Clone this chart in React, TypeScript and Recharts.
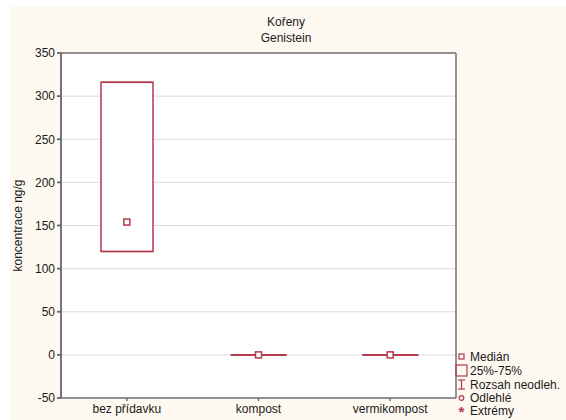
import React from "react";
import {
  ComposedChart,
  Bar,
  Scatter,
  XAxis,
  YAxis,
  CartesianGrid,
} from "recharts";

const categories = ["bez přídavku", "kompost", "vermikompost"];
const medians = [154, 0, 0];
const q1 = [120, 0, 0];
const q3 = [316, 0, 0];
const nonOutlierMin = [120, 0, 0];
const nonOutlierMax = [316, 0, 0];
const yTicks = [-50, 0, 50, 100, 150, 200, 250, 300, 350];

const RED = "#b23a48";
const FONT = "'Liberation Sans', Arial, sans-serif";

const data = categories.map((name, i) => ({
  name,
  median: medians[i],
  box: [q1[i], q3[i]],
  range: [nonOutlierMin[i], nonOutlierMax[i]],
}));

const BoxShape = (props: any) => {
  const { x, y, width, height } = props;
  if (!height || Math.abs(height) < 1) {
    return <line x1={x} x2={x + width} y1={y} y2={y} stroke={RED} strokeWidth={1.5} />;
  }
  return (
    <rect x={x} y={y} width={width} height={height} fill="#fff" stroke={RED} strokeWidth={1.5} />
  );
};

// whisker drawn first, the box (white fill) hides the part inside it
const WhiskerShape = (props: any) => {
  const { x, y, width, height } = props;
  const cx = x + width / 2;
  const flat = !height || Math.abs(height) < 1;
  const cap = flat ? width / 2 + 2 : width / 2;
  return (
    <g stroke={RED} strokeWidth={1.5}>
      <line x1={cx} x2={cx} y1={y} y2={y + height} />
      <line x1={cx - cap} x2={cx + cap} y1={y} y2={y} />
      <line x1={cx - cap} x2={cx + cap} y1={y + height} y2={y + height} />
    </g>
  );
};

const MedianShape = (props: any) => {
  const { cx, cy } = props;
  return <rect x={cx - 3} y={cy - 3} width={6} height={6} fill="#fff" stroke={RED} strokeWidth={1.5} />;
};

const LegendBox = () => (
  <svg
    width={110}
    height={72}
    style={{ position: "absolute", left: 455, top: 349, fontFamily: FONT }}
  >
    <g fontSize={12} fill="#1a1a1a">
      <rect x={4} y={5} width={5} height={5} fill="none" stroke={RED} strokeWidth={1.2} />
      <text x={15} y={12}>Medián</text>
      <rect x={1} y={16} width={11} height={11} fill="none" stroke={RED} strokeWidth={1.2} />
      <text x={15} y={26}>25%-75%</text>
      <g stroke={RED} strokeWidth={1.2}>
        <line x1={3} x2={10} y1={31} y2={31} />
        <line x1={6.5} x2={6.5} y1={31} y2={40} />
        <line x1={3} x2={10} y1={40} y2={40} />
      </g>
      <text x={15} y={40}>Rozsah neodleh.</text>
      <circle cx={6.5} cy={49} r={2.3} fill="none" stroke={RED} strokeWidth={1.2} />
      <text x={15} y={53}>Odlehlé</text>
      <text x={6.5} y={68} textAnchor="middle" fill={RED} fontSize={15} fontWeight="bold">*</text>
      <text x={15} y={66}>Extrémy</text>
    </g>
  </svg>
);

export default function App() {
  return (
    <div
      style={{
        position: "absolute",
        left: 0,
        top: 0,
        width: 566,
        height: 420,
        background: "#fff",
        fontFamily: FONT,
      }}
    >
      <div
        style={{
          position: "absolute",
          left: 10,
          top: 6,
          width: 556,
          height: 414,
          background: "#fdf9f1",
        }}
      />
      <div
        style={{
          position: "absolute",
          left: 0,
          width: 572,
          top: 14,
          textAlign: "center",
          fontSize: 12,
          lineHeight: "16px",
          color: "#1a1a1a",
        }}
      >
        <div>Kořeny</div>
        <div>Genistein</div>
      </div>
      <div style={{ position: "absolute", left: 0, top: 0 }}>
        <ComposedChart
          width={566}
          height={420}
          data={data}
          margin={{ top: 49, right: 106, bottom: 0, left: 0 }}
          barSize={52}
          barGap={-52}
        >
          <CartesianGrid vertical={false} stroke="#dcdcdc" fill="#fff" />
          <XAxis
            dataKey="name"
            xAxisId={0}
            height={22}
            tick={{ fontSize: 12, fill: "#1a1a1a" }}
            tickSize={3}
            tickMargin={3}
            stroke="#707070"
            strokeWidth={1.5}
          />
          <XAxis
            dataKey="name"
            xAxisId="top"
            orientation="top"
            height={4}
            tick={false}
            tickSize={3}
            stroke="#707070"
            strokeWidth={1.5}
          />
          <YAxis
            yAxisId={0}
            domain={[-50, 350]}
            ticks={yTicks}
            width={61}
            tickSize={4}
            tickMargin={2}
            tick={{ fontSize: 12, fill: "#1a1a1a" }}
            stroke="#666"
            strokeWidth={1.8}
            allowDataOverflow
            label={{
              value: "koncentrace ng/g",
              angle: -90,
              position: "insideLeft",
              offset: 18,
              style: { textAnchor: "middle", fontSize: 12, fill: "#1a1a1a" },
            }}
          />
          <YAxis
            yAxisId="right"
            orientation="right"
            domain={[-50, 350]}
            ticks={yTicks}
            width={4}
            tickSize={3}
            tick={false}
            stroke="#707070"
            strokeWidth={1.5}
          />
          <Bar dataKey="range" shape={<WhiskerShape />} isAnimationActive={false} />
          <Bar dataKey="box" shape={<BoxShape />} isAnimationActive={false} />
          <Scatter dataKey="median" shape={<MedianShape />} isAnimationActive={false} />
        </ComposedChart>
      </div>
      <LegendBox />
    </div>
  );
}
